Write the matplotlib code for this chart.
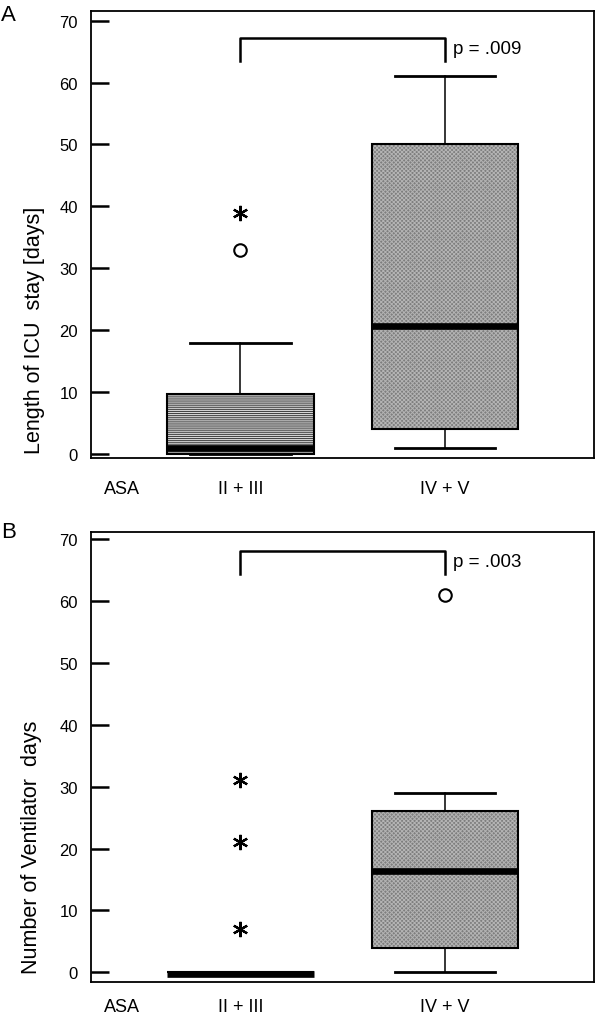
import matplotlib
matplotlib.use("Agg")
import matplotlib.pyplot as plt
from matplotlib.patches import PathPatch

plt.rcParams['font.family'] = ['Liberation Sans', 'DejaVu Sans']
plt.rcParams['hatch.linewidth'] = 0.7

# data
groups = ["II + III", "IV + V"]
positions = [1, 2]

# panel A - length of ICU stay
icu_q1 = [0, 4]
icu_med = [1, 20.7]
icu_q3 = [9.7, 50]
icu_whislo = [0, 1]
icu_whishi = [18, 61]
icu_circles = [[33], []]
icu_stars = [[39], []]
icu_p = "p = .009"

# panel B - ventilator days
vent_q1 = [0, 4]
vent_med = [-0.2, 16.4]
vent_q3 = [0, 26]
vent_whislo = [0, 0]
vent_whishi = [0, 29]
vent_circles = [[], [61]]
vent_stars = [[7, 21, 31], []]
vent_p = "p = .003"

# group fill: (face, hatch, hatch colour)
fills = [("#d6d6d6", "--------", "#3c3c3c"), ("#7e7e7e", "xxxxxxxx", "#b4b4b4")]


def panel(ax, q1, med, q3, lo, hi, circles, stars, pval, bracket, ylim, ylabel, letter, lab_xy, letter_y, xpad):
    stats = []
    for i in range(len(groups)):
        stats.append(dict(med=med[i], q1=q1[i], q3=q3[i], whislo=lo[i], whishi=hi[i], fliers=[], label=groups[i]))
    res = ax.bxp(stats, positions=positions, widths=0.715, showfliers=False, patch_artist=True,
                 boxprops=dict(facecolor="none", edgecolor="black", linewidth=1.5),
                 medianprops=dict(color="black", linewidth=4.8, solid_capstyle="butt"),
                 whiskerprops=dict(color="black", linewidth=1.1),
                 capprops=dict(color="black", linewidth=2.0),
                 capwidths=0.49)
    for b, (fc, h, hc) in zip(res["boxes"], fills):
        b.set_zorder(3)
        ax.add_patch(PathPatch(b.get_path(), facecolor=fc, hatch=h, edgecolor=hc, linewidth=0, zorder=2))
    for m in res["medians"]:
        m.set_zorder(4)

    for x, vals in zip(positions, circles):
        ax.plot([x] * len(vals), vals, "o", mfc="white", mec="black", ms=9, mew=1.5, zorder=5)
    for x, vals in zip(positions, stars):
        ax.plot([x] * len(vals), vals, marker=(6, 2, 0), ls="none", color="black", ms=11, mew=1.6, zorder=5)

    # significance bracket
    ax.plot([1, 1, 2, 2], [bracket[0], bracket[1], bracket[1], bracket[0]], color="black", lw=1.8)
    ax.text(2.04, (bracket[0] + bracket[1]) / 2 + 0.2, pval, ha="left", va="center", fontsize=13.5)

    ax.set_xlim(0.27, 2.727)
    ax.set_ylim(*ylim)
    ax.set_yticks(range(0, 71, 10))
    ax.tick_params(axis="y", direction="in", length=13, width=1.8, pad=9.5, labelsize=12)
    ax.set_xticks([0.42, 1, 2])
    ax.set_xticklabels(["ASA"] + groups)
    ax.tick_params(axis="x", length=0, pad=xpad, labelsize=13)
    for s in ax.spines.values():
        s.set_linewidth(1.3)

    fig.text(lab_xy[0], lab_xy[1], ylabel, rotation=90, ha="center", va="center", fontsize=15.5)
    fig.text(0.002, letter_y, letter, ha="left", va="center", fontsize=16)


fig = plt.figure(figsize=(6, 10.2), dpi=100)
axA = fig.add_axes([0.1517, 0.55, 0.838, 0.4385])
axB = fig.add_axes([0.1517, 0.036, 0.838, 0.4418])

panel(axA, icu_q1, icu_med, icu_q3, icu_whislo, icu_whishi, icu_circles, icu_stars, icu_p,
      (63.5, 67.2), (-0.65, 71.6), "Length of ICU  stay [days]", "A", (0.057, 0.676), 1 - 15.5 / 1020, 16)
panel(axB, vent_q1, vent_med, vent_q3, vent_whislo, vent_whishi, vent_circles, vent_stars, vent_p,
      (64.3, 68.0), (-1.6, 71.2), "Number of Ventilator  days", "B", (0.052, 0.169), 1 - 532.5 / 1020, 11)

fig.savefig("out.png", dpi=100)
